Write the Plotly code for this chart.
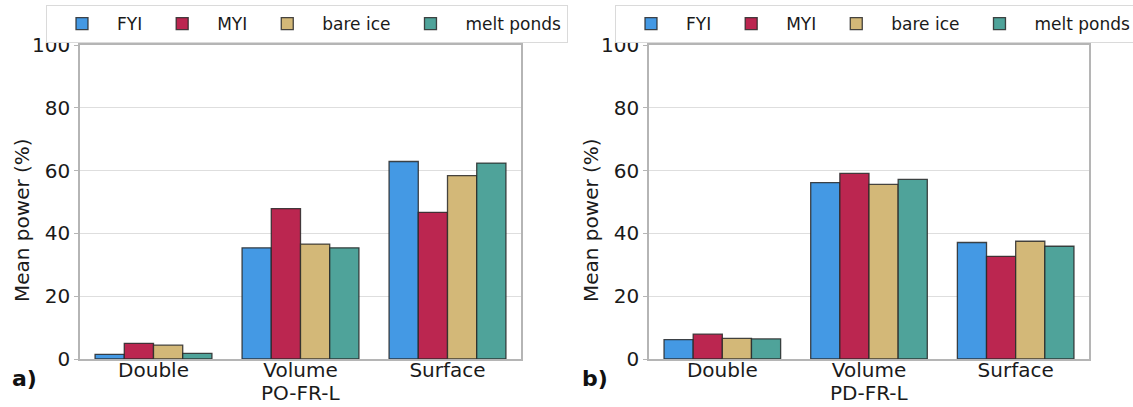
import plotly.graph_objects as go

categories = ["Double", "Volume", "Surface"]
series_names = ["FYI", "MYI", "bare ice", "melt ponds"]
colors = ["#4499e4", "#bb2650", "#d3b878", "#4fa39a"]

a_fyi = [1.5, 35.4, 62.9]
a_myi = [5.0, 47.9, 46.7]
a_bare = [4.4, 36.6, 58.4]
a_melt = [1.8, 35.4, 62.4]

b_fyi = [6.2, 56.2, 37.1]
b_myi = [7.9, 59.1, 32.7]
b_bare = [6.6, 55.6, 37.5]
b_melt = [6.4, 57.2, 35.9]

y_ticks = [0, 20, 40, 60, 80, 100]
panel_titles = ["PO-FR-L", "PD-FR-L"]
panel_labels = ["a)", "b)"]
y_title = "Mean power (%)"

W, H = 1133, 407
FONT = "DejaVu Sans"

def px_x(p):
    return p / W

def px_y(p):
    return 1 - p / H

fig = go.Figure()

panels = [
    ("x", "y", "legend", [a_fyi, a_myi, a_bare, a_melt]),
    ("x2", "y2", "legend2", [b_fyi, b_myi, b_bare, b_melt]),
]
for xa, ya, lg, data in panels:
    for name, col, vals in zip(series_names, colors, data):
        fig.add_trace(go.Bar(
            x=categories, y=vals, name=name, xaxis=xa, yaxis=ya, legend=lg,
            marker=dict(color=col, line=dict(color="rgba(40,40,40,0.85)", width=1.3)),
            hoverinfo="skip",
        ))

axis_common = dict(
    showline=True, linecolor="#b5b5b5", linewidth=1.5, mirror=True,
    tickfont=dict(family=FONT, size=20, color="#1a1a1a"),
    automargin=False,
)
xaxis_common = dict(range=[-0.5, 2.5], ticks="", ticklabelstandoff=-8, **axis_common)
yaxis_common = dict(range=[0, 100], tickvals=y_ticks, showgrid=True, gridcolor="#dedede",
                    gridwidth=1, ticks="outside", ticklen=4, tickcolor="#b5b5b5",
                    **axis_common)
legend_common = dict(orientation="h", xanchor="left", yanchor="top",
                     bgcolor="white", bordercolor="#dadada", borderwidth=1,
                     font=dict(family=FONT, size=17, color="#1a1a1a"),
                     itemwidth=60, traceorder="normal")

fig.update_layout(
    width=W, height=H,
    margin=dict(l=0, r=0, t=0, b=0, autoexpand=False),
    plot_bgcolor="white", paper_bgcolor="white",
    barmode="group", bargap=0.205, bargroupgap=0,
    font=dict(family=FONT, color="#1a1a1a"),
    xaxis=dict(domain=[px_x(80), px_x(521)], anchor="y", **xaxis_common),
    yaxis=dict(domain=[px_y(359), px_y(45)], anchor="x", **yaxis_common),
    xaxis2=dict(domain=[px_x(649), px_x(1089)], anchor="y2", **xaxis_common),
    yaxis2=dict(domain=[px_y(359), px_y(45)], anchor="x2", **yaxis_common),
    legend=dict(x=px_x(46), y=px_y(5), **legend_common),
    legend2=dict(x=px_x(615), y=px_y(5), **legend_common),
    showlegend=True,
)

for lab, xp in zip(panel_labels, [10, 580]):
    fig.add_annotation(text="<b>%s</b>" % lab, xref="paper", yref="paper",
                       x=px_x(xp), y=px_y(378), xanchor="left", yanchor="middle",
                       showarrow=False, font=dict(family=FONT, size=22, color="#111111"))

for title, xc in zip(panel_titles, [300, 869]):
    fig.add_annotation(text=title, xref="paper", yref="paper",
                       x=px_x(xc), y=px_y(393), xanchor="center", yanchor="middle",
                       showarrow=False, font=dict(family=FONT, size=20, color="#1a1a1a"))

for xc in [22, 591]:
    fig.add_annotation(text=y_title, xref="paper", yref="paper", textangle=-90,
                       x=px_x(xc), y=px_y(220), xanchor="center", yanchor="middle",
                       showarrow=False, font=dict(family=FONT, size=20, color="#1a1a1a"))

fig.write_html("out.html", config={"displayModeBar": False},
               post_script="document.body.style.margin='0';document.body.style.overflow='hidden';")
